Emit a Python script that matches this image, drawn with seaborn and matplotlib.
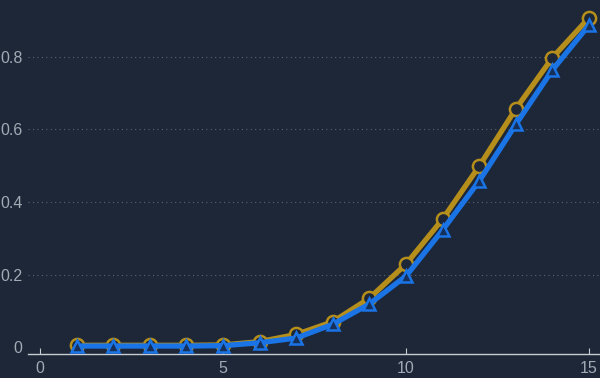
import matplotlib
matplotlib.use("Agg")
import matplotlib.pyplot as plt
import seaborn as sns
import pandas as pd
from matplotlib.ticker import FuncFormatter

x_vals = list(range(1, 16))
series_a = [0.005, 0.005, 0.005, 0.005, 0.006, 0.015, 0.035, 0.07, 0.135, 0.229, 0.353, 0.499, 0.657, 0.798, 0.908]
series_b = [0.003, 0.003, 0.003, 0.003, 0.004, 0.012, 0.025, 0.063, 0.119, 0.196, 0.323, 0.458, 0.614, 0.764, 0.888]
y_ticks = [0, 0.2, 0.4, 0.6, 0.8]
x_ticks = [0, 5, 10, 15]

bg = "#1d2738"
sns.set_theme(style="dark")
plt.rcParams['font.family'] = ['Liberation Sans', 'DejaVu Sans']

fig = plt.figure(figsize=(6, 3.78), dpi=100, facecolor=bg)
ax = fig.add_axes([28/600, 24/378, 1 - 28/600, 1 - 24/378])
ax.set_facecolor(bg)

df_a = pd.DataFrame({"x": x_vals, "y": series_a})
df_b = pd.DataFrame({"x": x_vals, "y": series_b})

sns.lineplot(data=df_a, x="x", y="y", ax=ax, color="#b58e1b", linewidth=3.8,
             marker="o", markersize=9.5, markerfacecolor=bg, markeredgecolor="#b58e1b",
             markeredgewidth=1.8, zorder=3)
sns.lineplot(data=df_b, x="x", y="y", ax=ax, color="#1a74e6", linewidth=3.8,
             marker="^", markersize=8.5, markerfacecolor="#17305a", markeredgecolor="#1a74e6",
             markeredgewidth=1.8, zorder=4)

ax.set_xlim(-0.33, 15.3)
ax.set_ylim(-0.019, 0.957)
ax.set_xticks(x_ticks)
ax.set_yticks(y_ticks)
ax.yaxis.set_major_formatter(FuncFormatter(lambda v, p: f"{v:g}"))
ax.set_xlabel("")
ax.set_ylabel("")

for s in ["top", "right", "left"]:
    ax.spines[s].set_visible(False)
ax.spines["bottom"].set_color("#c8ccd2")
ax.spines["bottom"].set_linewidth(1)

ax.grid(False)
for t in y_ticks[1:]:
    ax.axhline(t, color="#5a6475", linestyle=(0, (1, 3)), linewidth=0.8, zorder=1)

ax.tick_params(axis="x", direction="in", length=4, width=0.8, color="#c8ccd2",
               labelcolor="#a3aab5", labelsize=11.5, pad=5, bottom=True)
ax.tick_params(axis="y", length=0, labelcolor="#a3aab5", labelsize=11.5, pad=4, left=False)

fig.savefig("out.png", dpi=100, facecolor=bg)
